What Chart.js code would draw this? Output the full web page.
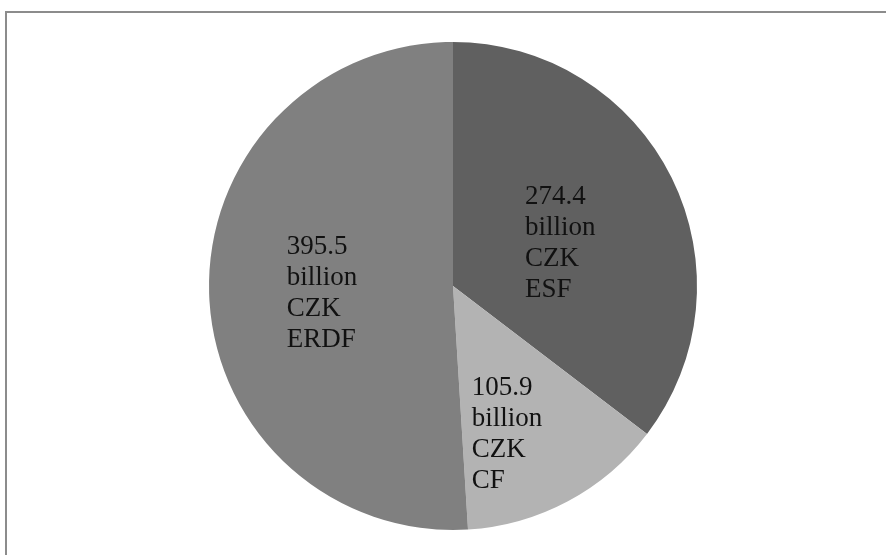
<!DOCTYPE html>
<html>
<head>
<meta charset="utf-8">
<script src="https://cdn.jsdelivr.net/npm/chart.js@4/dist/chart.umd.min.js"></script>
<style>
  html, body { margin: 0; padding: 0; background: #fff; }
  body { width: 886px; height: 555px; overflow: hidden; position: relative; }
  #frame { position: absolute; left: 5px; top: 11px; width: 920px; height: 600px;
           border: 2px solid #8c8c8c; box-sizing: border-box; }
  #wrap { position: absolute; left: 0; top: 0; width: 886px; height: 555px; }
</style>
</head>
<body>
<div id="frame"></div>
<div id="wrap"><canvas id="chartFunds"></canvas></div>
<script>
// fund allocations, billion CZK
const funds  = ['ESF', 'CF', 'ERDF'];
const values = [274.4, 105.9, 395.5];
const colors = ['#606060', '#b3b3b3', '#808080'];
// where each label sits, as a share of the radius along the slice middle
const labelRadius = [0.475, 0.64, 0.537];
const labelTurn   = [0.07, 0.138, -0.009];   // small angular nudge (rad)

const sliceLabels = {
  id: 'sliceLabels',
  afterDatasetsDraw(chart) {
    const { ctx } = chart;
    const meta = chart.getDatasetMeta(0);
    ctx.save();
    ctx.font = "27px 'Liberation Serif', 'DejaVu Serif', serif";
    ctx.fillStyle = '#111';
    ctx.textBaseline = 'alphabetic';
    ctx.textAlign = 'left';
    const lh = 31;
    meta.data.forEach((arc, i) => {
      const p = arc.getProps(['x', 'y', 'startAngle', 'endAngle', 'outerRadius'], true);
      const mid = (p.startAngle + p.endAngle) / 2 + labelTurn[i];
      const r = p.outerRadius * labelRadius[i];
      const cx = p.x + Math.cos(mid) * r;
      const cy = p.y + Math.sin(mid) * r;
      const lines = [values[i].toFixed(1), 'billion', 'CZK', funds[i]];
      const w = Math.max(...lines.map(t => ctx.measureText(t).width));
      const h = lh * (lines.length - 1) + 18;
      const left = cx - w / 2;
      const firstBase = cy - h / 2 + 18;
      lines.forEach((t, k) => ctx.fillText(t, left, firstBase + k * lh));
    });
    ctx.restore();
  }
};

new Chart(document.getElementById('chartFunds'), {
  type: 'pie',
  data: {
    labels: funds,
    datasets: [{ data: values, backgroundColor: colors, borderWidth: 0 }]
  },
  options: {
    responsive: true,
    maintainAspectRatio: false,
    animation: false,
    layout: { padding: { top: 42, bottom: 25, left: 209, right: 189 } },
    plugins: { legend: { display: false }, tooltip: { enabled: false } }
  },
  plugins: [sliceLabels]
});
</script>
</body>
</html>
